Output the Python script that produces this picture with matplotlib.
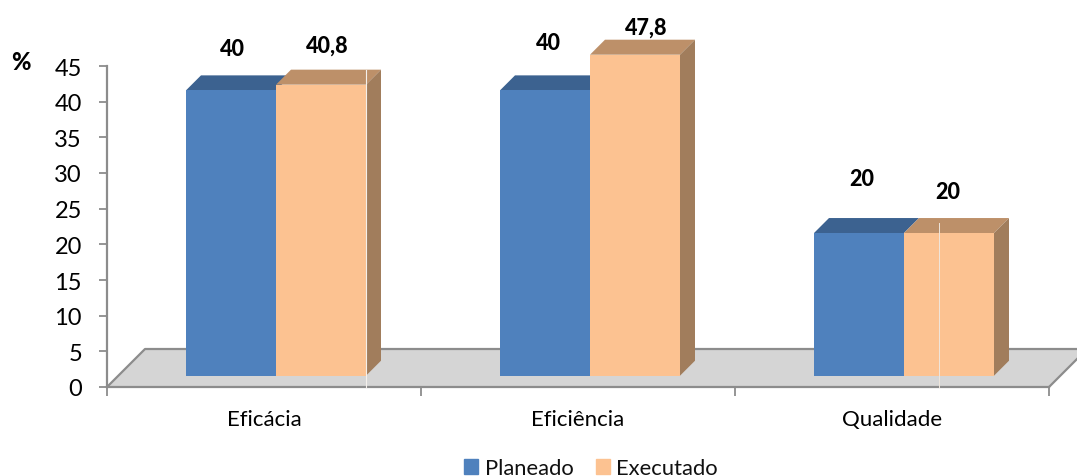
import numpy as np
import matplotlib
matplotlib.use("Agg")
import matplotlib.pyplot as plt
from matplotlib.patches import Patch

categories = ["Eficácia", "Eficiência", "Qualidade"]
planeado = [40, 40, 20]
executado = [40.8, 47.8, 20]
planeado_labels = ["40", "40", "20"]
executado_labels = ["40,8", "47,8", "20"]
y_ticks = [0, 5, 10, 15, 20, 25, 30, 35, 40, 45]

AXIS_MAX = 45
BLUE = "#4f81bd"
BLUE_TOP = "#3c6290"
ORANGE = "#fcc291"
ORANGE_TOP = "#bd9069"
ORANGE_SIDE = "#a17d5c"
GREY = "#8c8c8c"
FLOOR = "#d5d5d5"

W, H = 1077, 477
plt.rcParams["font.family"] = ["Lato", "DejaVu Sans"]
plt.rcParams["text.color"] = "#111111"

fig = plt.figure(figsize=(W / 100, H / 100), dpi=100)
ax = fig.add_axes([107 / W, (H - 388) / H, 942 / W, 321 / H])
ax.set_xlim(-0.5, 2.5)
ax.set_ylim(0, AXIS_MAX)

# pixel sizes of the fake 3D projection, turned into data units
px_x = 3 / 942
px_y = AXIS_MAX / 321
bar_w = 90 * px_x
shift = 12 * px_x
base = 11.3 * px_y
depth_x = 15 * px_x
depth_y = 15 * px_y
floor_x = 38 * px_x
floor_y = 38 * px_y


def extrude(x0, x1, top, top_color, side_color=None):
    # slanted top face, plus the right side when it shows
    ax.fill(
        [x0, x0 + depth_x, x1 + depth_x, x1],
        [top, top + depth_y, top + depth_y, top],
        color=top_color, lw=0, clip_on=False, zorder=3,
    )
    if side_color:
        ax.fill(
            [x1, x1 + depth_x, x1 + depth_x, x1],
            [base, base + depth_y, top + depth_y, top],
            color=side_color, lw=0, clip_on=False, zorder=3,
        )


# floor
ax.fill(
    [-0.5, -0.5 + floor_x, 2.5 + floor_x, 2.5],
    [0, floor_y, floor_y, 0],
    color=FLOOR, lw=0, clip_on=False, zorder=1,
)
ax.plot(
    [-0.5, -0.5 + floor_x, 2.5 + floor_x, 2.5],
    [0, floor_y, floor_y, 0],
    color=GREY, lw=1.6, clip_on=False, zorder=2,
)

x = np.arange(len(categories))
plan_h = np.minimum(planeado, AXIS_MAX)
exec_h = np.minimum(executado, AXIS_MAX)

for i in x:
    left = i + shift - bar_w
    mid = i + shift
    extrude(left, mid, base + plan_h[i], BLUE_TOP)
    extrude(mid, mid + bar_w, base + exec_h[i], ORANGE_TOP, ORANGE_SIDE)

ax.bar(x + shift - bar_w / 2, plan_h, bar_w, bottom=base, color=BLUE, clip_on=False, zorder=4)
ax.bar(x + shift + bar_w / 2, exec_h, bar_w, bottom=base, color=ORANGE, clip_on=False, zorder=4)

# hairlines running through the first and last groups
ax.plot([0 + shift + bar_w] * 2, [0, 44.5], color="#f4f0ec", lw=0.8, clip_on=False, zorder=5)
ax.plot([2 + shift + 35 * px_x] * 2, [0, 23], color="#efe6dc", lw=0.7, clip_on=False, zorder=5)

# value labels, lifted by hand above each bar
plan_off = [(1, 42), (3, 48), (3, 55)]
exec_off = [(6, 40), (11, 28), (-1, 42)]
for i in x:
    ax.annotate(
        planeado_labels[i], (i + shift - bar_w / 2, base + plan_h[i]),
        xytext=plan_off[i], textcoords="offset pixels",
        ha="center", va="center", fontsize=15.5, fontweight="black", color="black",
        annotation_clip=False, zorder=6,
    )
    ax.annotate(
        executado_labels[i], (i + shift + bar_w / 2, base + exec_h[i]),
        xytext=exec_off[i], textcoords="offset pixels",
        ha="center", va="center", fontsize=15.5, fontweight="black", color="black",
        annotation_clip=False, zorder=6,
    )

ax.set_yticks(y_ticks)
ax.tick_params(axis="y", labelsize=17, length=6, width=1.3, color=GREY, pad=12)
ax.set_xticks([-0.5, 0.5, 1.5, 2.5])
ax.set_xticklabels([])
ax.set_xticks(x, categories, minor=True)
ax.tick_params(axis="x", which="major", length=6.5, width=1.3, color=GREY)
ax.tick_params(axis="x", which="minor", length=0, labelsize=16, pad=16)

for side in ["top", "right"]:
    ax.spines[side].set_visible(False)
for side in ["left", "bottom"]:
    ax.spines[side].set_color(GREY)
    ax.spines[side].set_linewidth(1.6)
    ax.spines[side].set_zorder(2.5)

fig.text(21 / W, 1 - 62 / H, "%", ha="center", va="center", fontsize=17, fontweight="black", color="black")

handles = [Patch(color=BLUE, label="Planeado"), Patch(color=ORANGE, label="Executado")]
fig.legend(
    handles=handles, loc="center", bbox_to_anchor=(591 / W, 1 - 469 / H), ncol=2,
    frameon=False, fontsize=15.8, handlelength=0.65, handleheight=0.65,
    handletextpad=0.3, columnspacing=1.0, borderpad=0,
)

fig.savefig("out.png", dpi=100)
